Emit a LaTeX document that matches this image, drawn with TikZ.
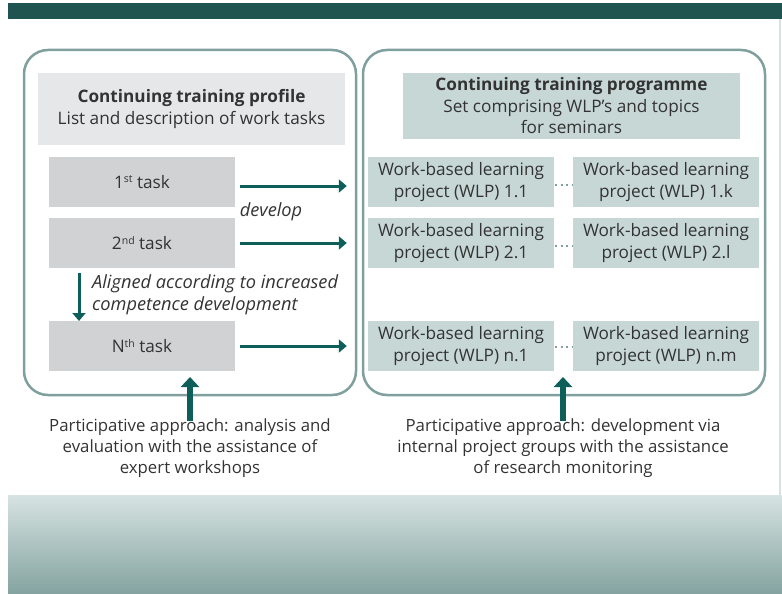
\documentclass[tikz,border=0pt]{standalone}
\usepackage{fontspec}
\setmainfont{Open Sans}
\usetikzlibrary{arrows.meta}
\definecolor{barc}{HTML}{1F5450}
\definecolor{arrc}{HTML}{0E5F59}
\definecolor{framec}{HTML}{7FA09D}
\definecolor{hdrl}{HTML}{E6E7E8}
\definecolor{taskc}{HTML}{D1D2D4}
\definecolor{wlpc}{HTML}{C6D7D6}
\definecolor{txt}{HTML}{333333}
\definecolor{gradtop}{HTML}{D6E3E2}
\definecolor{gradbot}{HTML}{84A3A0}
\newcommand{\sups}[1]{\raisebox{0.6ex}{\fontsize{10.5}{10.5}\selectfont #1}}
\tikzset{
  base/.style={text=txt, inner sep=0pt, font=\fontsize{17.2}{21.5}\selectfont},
  frame/.style={draw=framec, line width=2.5pt, rounded corners=24pt},
  taskbox/.style={base, fill=taskc, minimum width=186pt, minimum height=50pt},
  wlpbox/.style={base, fill=wlpc, minimum width=186pt, minimum height=50pt, align=center},
  hdrbox/.style={base, align=center},
  arr/.style={draw=arrc, line width=3pt, -{Triangle[length=8pt,width=13pt]}},
  uparr/.style={draw=arrc, line width=6pt, -{Triangle[length=10pt,width=18pt]}},
  lbl/.style={base, font=\fontsize{18.2}{21.5}\selectfont\itshape},
  foot/.style={base, align=center, font=\fontsize{16.8}{21}\selectfont},
  dots/.style={draw=framec, line width=2pt, dash pattern=on 2pt off 3.5pt}
}
\begin{document}
\begin{tikzpicture}[x=1pt,y=-1pt]
\useasboundingbox (0,0) rectangle (782,594);
% top bar, right edge, bottom gradient
\fill[barc] (8,3) rectangle (782,19);
\fill[gradtop] (779,19) rectangle (781,495);
\shade[top color=gradtop, bottom color=gradbot] (8,495) rectangle (782,594);
% frames
\draw[frame] (24,50) rectangle (356,395);
\draw[frame] (363,50) rectangle (765,395);
% headers
\node[hdrbox, fill=hdrl, minimum width=307pt, minimum height=72pt] (hl) at (191.5,109)
  {\textbf{Continuing training profile}\\List and description of work tasks};
\node[hdrbox, fill=wlpc, minimum width=337pt, minimum height=66pt] (hr) at (571.5,106)
  {\textbf{Continuing training programme}\\Set comprising WLP’s and topics\\for seminars};
% tasks
\node[taskbox] (t1) at (142,182) {1\sups{st} task};
\node[taskbox] (t2) at (142,243) {2\sups{nd} task};
\node[taskbox] (tn) at (142,346) {N\sups{th} task};
% WLPs
\node[wlpbox] (w11) at (461,182) {Work-based learning\\project (WLP) 1.1};
\node[wlpbox] (w1k) at (666,182) {Work-based learning\\project (WLP) 1.k};
\node[wlpbox] (w21) at (461,243) {Work-based learning\\project (WLP) 2.1};
\node[wlpbox] (w2l) at (666,243) {Work-based learning\\project (WLP) 2.l};
\node[wlpbox] (wn1) at (461,346) {Work-based learning\\project (WLP) n.1};
\node[wlpbox] (wnm) at (666,346) {Work-based learning\\project (WLP) n.m};
% dotted links
\draw[dots] ([xshift=1pt,yshift=-3pt]w11.east) -- ([xshift=-1pt,yshift=-3pt]w1k.west);
\draw[dots] ([xshift=1pt,yshift=-3pt]w21.east) -- ([xshift=-1pt,yshift=-3pt]w2l.west);
\draw[dots] ([xshift=1pt,yshift=-1pt]wn1.east) -- ([xshift=-1pt,yshift=-1pt]wnm.west);
% develop arrows
\draw[arr] ([xshift=5pt,yshift=-4pt]t1.east) -- ([xshift=-21pt,yshift=-4pt]w11.west);
\draw[arr] ([xshift=5pt]t2.east) -- ([xshift=-21pt]w21.west);
\draw[arr] ([xshift=5pt]tn.east) -- ([xshift=-21pt]wn1.west);
\node[lbl] (dev) at (271,212) {develop};
% aligned arrow
\coordinate (dtop) at (79,273);
\coordinate (dbot) at (79,321);
\draw[arr] (dtop) -- (dbot);
\node[lbl, anchor=west, align=left] (al) at (92,295) {Aligned according to increased\\competence development};
% footers
\node[foot] (fl) at (190,448) {Participative approach: analysis and\\evaluation with the assistance of\\expert workshops};
\node[foot] (fr) at (563,448) {Participative approach: development via\\internal project groups with the assistance\\of research monitoring};
\coordinate (ul) at (190,377);
\coordinate (ur) at (563,377);
\draw[uparr] ([yshift=-3pt]fl.north) -- (ul);
\draw[uparr] ([yshift=-3pt]fr.north) -- (ur);
\end{tikzpicture}
\end{document}
